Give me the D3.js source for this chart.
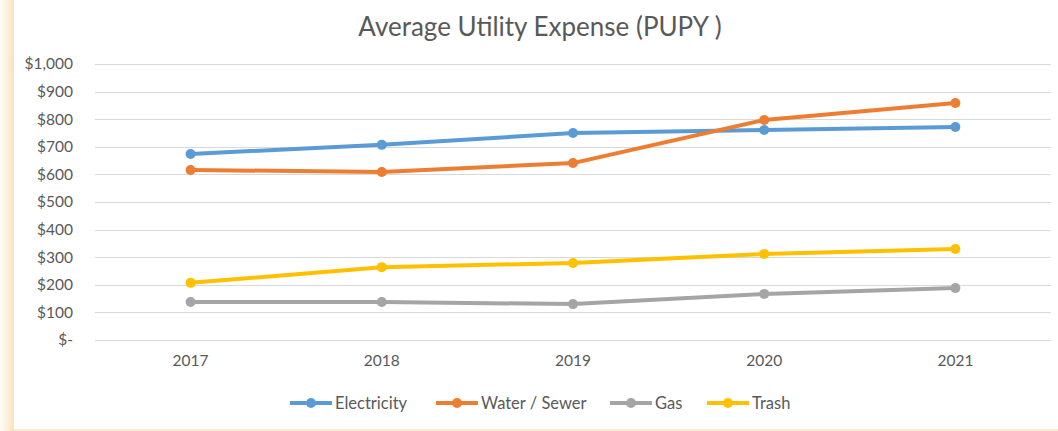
<!DOCTYPE html>
<html>
<head>
<meta charset="utf-8">
<script src="https://cdn.jsdelivr.net/npm/d3@7"></script>
<style>
  body { margin: 0; background: #fff; }
  svg { display: block; }
</style>
</head>
<body>
<svg id="chart" width="1058" height="431"></svg>
<script>
'use strict';

const years = ['2017', '2018', '2019', '2020', '2021'];
const electricity = [674, 707, 750, 761, 772];
const waterSewer = [616, 609, 641, 797, 859];
const gas = [138, 138, 130, 167, 188];
const trash = [207, 264, 279, 312, 330];
const yTicks = [0, 100, 200, 300, 400, 500, 600, 700, 800, 900, 1000];

const series = [
  { name: 'Electricity', values: electricity, color: '#5B9BD5' },
  { name: 'Water / Sewer', values: waterSewer, color: '#ED7D31' },
  { name: 'Gas', values: gas, color: '#A5A5A5' },
  { name: 'Trash', values: trash, color: '#FFC000' }
];

const svg = d3.select('#chart');
const width = 1058;
const height = 431;
const font = 'Lato, "Open Sans", sans-serif';
const textColor = '#595959';

// frame decoration: soft beige strip on the left, thin line at the bottom
const defs = svg.append('defs');
const grad = defs.append('linearGradient').attr('id', 'edge');
grad.append('stop').attr('offset', '0%').attr('stop-color', '#fffdf9');
grad.append('stop').attr('offset', '100%').attr('stop-color', '#fbe1bd');
svg.append('rect').attr('x', 0).attr('y', 0).attr('width', 14).attr('height', height)
  .attr('fill', 'url(#edge)');
svg.append('rect').attr('x', 14).attr('y', 429).attr('width', width - 14).attr('height', 2)
  .attr('fill', '#fbeacd');

const plot = { left: 95, right: 1051, top: 64, bottom: 340 };

const x = d3.scaleBand().domain(years).range([plot.left, plot.right]).padding(0);
const y = d3.scaleLinear().domain([0, 1000]).range([plot.bottom, plot.top]);
const cx = d => x(d) + x.bandwidth() / 2;

// title
svg.append('text')
  .attr('x', 540).attr('y', 36)
  .attr('text-anchor', 'middle')
  .attr('font-family', font).attr('font-size', 26)
  .attr('fill', textColor)
  .text('Average Utility Expense (PUPY )');

// gridlines
svg.append('g')
  .selectAll('line')
  .data(yTicks)
  .join('line')
  .attr('x1', plot.left).attr('x2', plot.right)
  .attr('y1', d => Math.round(y(d)) + 0.5).attr('y2', d => Math.round(y(d)) + 0.5)
  .attr('stroke', '#d9d9d9').attr('stroke-width', 1);

// y axis labels
const fmt = d => d === 0 ? '$-' : '$' + d3.format(',')(d);
const yAxis = svg.append('g')
  .attr('transform', `translate(${plot.left - 22},0)`)
  .call(d3.axisLeft(y).tickValues(yTicks).tickFormat(fmt).tickSize(0).tickPadding(0));
yAxis.select('.domain').remove();
yAxis.selectAll('text')
  .attr('font-family', font).attr('font-size', 15.5).attr('fill', textColor);

// x axis labels
const xAxis = svg.append('g')
  .attr('transform', `translate(0,${plot.bottom + 15})`)
  .call(d3.axisBottom(x).tickSize(0).tickPadding(0));
xAxis.select('.domain').remove();
xAxis.selectAll('text')
  .attr('font-family', font).attr('font-size', 15.5).attr('fill', textColor);

// lines and markers
const line = d3.line()
  .x((d, i) => cx(years[i]))
  .y(d => y(d));

const groups = svg.append('g')
  .selectAll('g')
  .data(series)
  .join('g');

groups.append('path')
  .attr('d', s => line(s.values))
  .attr('fill', 'none')
  .attr('stroke', s => s.color)
  .attr('stroke-width', 4)
  .attr('stroke-linejoin', 'round')
  .attr('stroke-linecap', 'round');

groups.selectAll('circle')
  .data(s => s.values.map((v, i) => ({ v, year: years[i], color: s.color })))
  .join('circle')
  .attr('cx', d => cx(d.year))
  .attr('cy', d => y(d.v))
  .attr('r', 5)
  .attr('fill', d => d.color);

// legend
const legendX = [290, 436, 610, 707];
const legend = svg.append('g')
  .selectAll('g')
  .data(series)
  .join('g')
  .attr('transform', (d, i) => `translate(${legendX[i]},403)`);

legend.append('line')
  .attr('x1', 0).attr('x2', 42)
  .attr('stroke', d => d.color).attr('stroke-width', 4);
legend.append('circle')
  .attr('cx', 21).attr('r', 5)
  .attr('fill', d => d.color);
legend.append('text')
  .attr('x', 45).attr('dy', '0.35em')
  .attr('font-family', font).attr('font-size', 16.5)
  .attr('fill', textColor)
  .text(d => d.name);
</script>
</body>
</html>
